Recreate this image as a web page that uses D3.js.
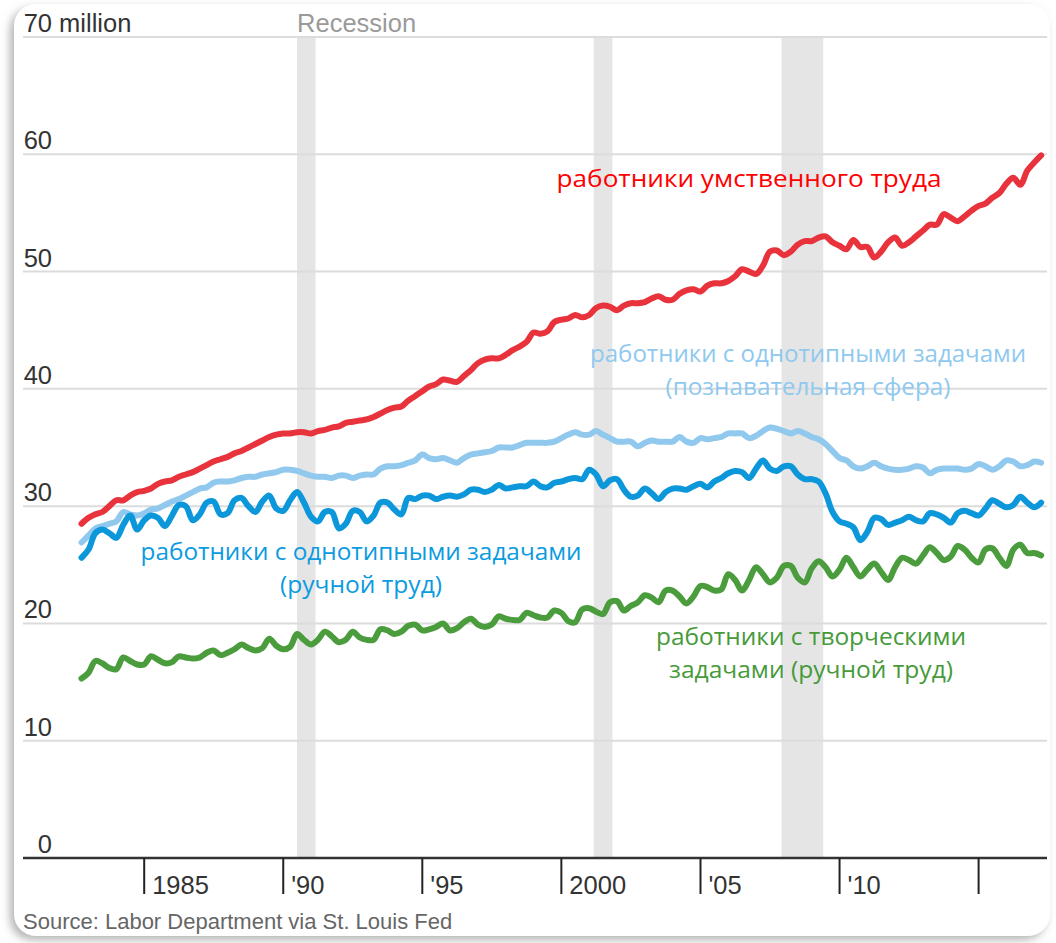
<!DOCTYPE html>
<html>
<head>
<meta charset="utf-8">
<script src="https://cdn.jsdelivr.net/npm/d3@7"></script>
<style>
  html, body { margin: 0; padding: 0; background: #fff; }
  svg { display: block; }
</style>
</head>
<body>
<div id="chart"></div>
<script>
// --- Data (millions of workers, quarterly from Oct 1982) ---
const startQuarter = new Date(1982, 9, 1);

const knowledge = [
  28.5, 29.0, 29.3, 29.5, 30.0, 30.5, 30.5, 30.9, 31.2, 31.3, 31.5, 31.9, 32.1, 32.2, 32.5, 32.7,
  32.9, 33.2, 33.5, 33.8, 34.0, 34.2, 34.5, 34.7, 35.0, 35.3, 35.6, 35.9, 36.1, 36.2, 36.2, 36.3,
  36.3, 36.2, 36.4, 36.5, 36.7, 36.8, 37.1, 37.2, 37.3, 37.4, 37.6, 37.9, 38.2, 38.4, 38.5, 39.0,
  39.4, 39.8, 40.2, 40.4, 40.8, 40.7, 40.6, 41.1, 41.6, 42.2, 42.5, 42.6, 42.6, 42.9, 43.3, 43.6,
  44.0, 44.8, 44.7, 44.9, 45.7, 45.9, 46.0, 46.3, 46.1, 46.3, 46.9, 47.1, 47.0, 46.7, 47.1, 47.3,
  47.3, 47.4, 47.7, 47.9, 47.6, 47.6, 48.1, 48.4, 48.5, 48.3, 48.8, 49.0, 49.0, 49.2, 49.6, 50.2,
  50.0, 49.8, 50.5, 51.7, 51.8, 51.4, 51.7, 52.3, 52.6, 52.6, 52.9, 53.0, 52.5, 52.2, 51.9, 52.7,
  52.1, 52.1, 51.2, 51.7, 52.5, 52.9, 52.2, 52.5, 53.0, 53.5, 54.0, 54.0, 54.9, 54.6, 54.3, 54.7,
  55.2, 55.6, 55.8, 56.3, 56.7, 57.5, 58.0, 57.4, 58.6, 59.3, 59.9
];

const routineCognitive = [
  26.9, 27.5, 28.1, 28.3, 28.5, 28.7, 29.5, 29.3, 29.2, 29.4, 29.7, 29.8, 30.1, 30.4, 30.6, 30.9,
  31.2, 31.5, 31.6, 32.0, 32.1, 32.1, 32.2, 32.4, 32.5, 32.5, 32.7, 32.8, 32.9, 33.1, 33.1, 33.0,
  32.8, 32.6, 32.5, 32.5, 32.4, 32.6, 32.6, 32.4, 32.6, 32.7, 32.7, 33.2, 33.4, 33.4, 33.5, 33.7,
  33.9, 34.4, 34.1, 34.0, 34.1, 33.9, 33.7, 34.1, 34.4, 34.5, 34.6, 34.7, 35.0, 35.0, 35.0, 35.2,
  35.4, 35.4, 35.4, 35.4, 35.5, 35.8, 36.1, 36.3, 36.1, 36.1, 36.4, 36.1, 35.8, 35.5, 35.5, 35.5,
  35.1, 35.4, 35.6, 35.5, 35.5, 35.5, 35.9, 35.5, 35.4, 35.8, 35.7, 35.8, 35.9, 36.2, 36.2, 36.2,
  35.8, 36.0, 36.4, 36.7, 36.6, 36.4, 36.2, 36.4, 36.2, 35.9, 35.7, 35.3, 34.7, 34.1, 33.9, 33.4,
  33.2, 33.4, 33.7, 33.4, 33.2, 33.1, 33.1, 33.2, 33.4, 33.3, 32.8, 33.1, 33.2, 33.2, 33.2, 33.1,
  33.2, 33.6, 33.4, 33.1, 33.4, 33.9, 33.8, 33.4, 33.5, 33.8, 33.7
];

const routineManual = [
  25.6, 26.3, 27.7, 28.0, 27.7, 27.3, 28.4, 29.2, 28.0, 28.8, 29.2, 29.0, 28.3, 29.2, 30.1, 30.0,
  28.8, 29.3, 30.3, 30.4, 29.3, 29.4, 30.5, 30.7, 30.0, 29.5, 30.4, 30.9, 29.8, 29.6, 30.5, 31.2,
  30.3, 29.1, 28.7, 29.5, 29.5, 28.1, 28.5, 29.6, 29.5, 28.7, 29.2, 30.3, 30.3, 29.7, 29.3, 30.7,
  30.6, 30.9, 30.9, 30.6, 30.8, 30.9, 30.8, 31.0, 31.4, 31.4, 31.2, 31.4, 31.8, 31.5, 31.6, 31.7,
  31.7, 32.1, 31.7, 31.6, 32.0, 32.1, 32.3, 32.4, 32.3, 33.1, 32.7, 31.7, 32.2, 32.3, 31.4, 30.8,
  30.9, 31.5, 31.1, 30.6, 31.2, 31.5, 31.5, 31.4, 31.7, 31.9, 31.6, 32.1, 32.4, 32.8, 33.0, 32.9,
  32.4, 33.2, 33.9, 33.2, 33.0, 33.4, 33.4, 32.7, 32.3, 32.3, 32.1, 31.1, 29.5, 28.7, 28.5, 28.2,
  27.1, 27.8, 29.0, 28.9, 28.4, 28.6, 28.8, 29.1, 28.8, 28.7, 29.4, 29.3, 29.0, 28.6, 29.4, 29.6,
  29.4, 29.2, 29.8, 30.5, 30.2, 29.9, 30.1, 30.8, 30.3, 29.9, 30.3
];

const nonRoutineManual = [
  15.3, 15.8, 16.8, 16.6, 16.2, 16.1, 17.1, 16.8, 16.5, 16.5, 17.2, 16.9, 16.6, 16.7, 17.2, 17.1,
  17.0, 17.1, 17.5, 17.7, 17.3, 17.5, 17.8, 18.2, 17.9, 17.7, 17.9, 18.7, 18.1, 17.8, 18.0, 19.1,
  18.6, 18.2, 18.6, 19.3, 18.9, 18.4, 18.6, 19.3, 18.8, 18.6, 18.6, 19.5, 19.4, 19.1, 19.3, 19.8,
  19.9, 19.4, 19.5, 19.7, 20.0, 19.4, 19.6, 20.1, 20.4, 19.9, 19.7, 19.9, 20.6, 20.4, 20.3, 20.3,
  20.9, 20.7, 20.5, 20.5, 21.1, 20.9, 20.2, 20.1, 21.2, 21.3, 21.0, 20.8, 21.8, 21.9, 21.1, 21.5,
  21.8, 22.4, 22.2, 21.8, 22.8, 22.8, 22.3, 21.7, 22.3, 23.2, 23.1, 22.8, 22.9, 24.2, 23.7, 22.8,
  23.7, 24.8, 24.2, 23.5, 23.9, 24.9, 24.9, 23.9, 23.5, 24.7, 25.3, 24.8, 24.0, 24.6, 25.6, 24.8,
  24.0, 24.6, 25.1, 24.4, 23.7, 24.8, 25.6, 25.4, 25.1, 25.8, 26.5, 26.0, 25.4, 25.7, 26.6, 26.3,
  25.6, 25.2, 26.3, 26.4, 25.6, 24.9, 26.3, 26.7, 26.0, 26.0, 25.8
];

const yTicks = [0, 10, 20, 30, 40, 50, 60, 70];
const xTickYears = [1985, 1990, 1995, 2000, 2005, 2010, 2015];
const xTickLabels = ["1985", "'90", "'95", "2000", "'05", "'10", ""];

const recessions = [
  ["1990-07-01", "1991-03-01"],
  ["2001-03-01", "2001-11-01"],
  ["2007-12-01", "2009-06-01"]
];

const series = [
  { name: "routineCognitive", values: routineCognitive, color: "#90c8ee" },
  { name: "nonRoutineManual", values: nonRoutineManual, color: "#4b9c3d" },
  { name: "routineManual", values: routineManual, color: "#0b97d9" },
  { name: "knowledge", values: knowledge, color: "#e8333d" }
];

const labels = [
  { lines: ["работники умственного труда"], x: 749, y: 187, widths: [385], color: "#ff0000" },
  { lines: ["работники с однотипными задачами", "(познавательная сфера)"], x: 808, y: 362, widths: [436, 285], color: "#8fc9ef" },
  { lines: ["работники с однотипными задачами", "(ручной труд)"], x: 361, y: 560, widths: [441, 162], color: "#0b9be0" },
  { lines: ["работники с творческими", "задачами (ручной труд)"], x: 811, y: 645, widths: [310, 284], color: "#469a3a" }
];

// --- Layout ---
const width = 1056, height = 943;
const plotLeft = 23, plotRight = 1047;
const baseFont = "'Liberation Sans', Arial, Helvetica, sans-serif";
const labelFont = "'Open Sans', 'Noto Sans', sans-serif";

const dates = knowledge.map((_, i) => d3.timeMonth.offset(startQuarter, 3 * i));

const x = d3.scaleTime()
    .domain([new Date(1985, 0, 1), new Date(2015, 0, 1)])
    .range([144.2, 978.6]);

const y = d3.scaleLinear()
    .domain([0, 70])
    .range([858, 37]);

const svg = d3.select("#chart")
    .append("svg")
    .attr("width", width)
    .attr("height", height);

// frame with soft shadow
const defs = svg.append("defs");
const shadow = defs.append("filter").attr("id", "shadow")
    .attr("x", "-5%").attr("y", "-5%").attr("width", "110%").attr("height", "110%");
shadow.append("feDropShadow")
    .attr("dx", -4).attr("dy", 4)
    .attr("stdDeviation", 4)
    .attr("flood-color", "#777")
    .attr("flood-opacity", 0.55);

svg.append("rect")
    .attr("x", 14).attr("y", 4)
    .attr("width", 1036).attr("height", 932)
    .attr("rx", 22)
    .attr("fill", "#fff")
    .attr("filter", "url(#shadow)");

// recession bands
svg.append("g")
    .selectAll("rect")
    .data(recessions)
    .join("rect")
    .attr("x", d => x(new Date(d[0])))
    .attr("width", d => x(new Date(d[1])) - x(new Date(d[0])))
    .attr("y", y(70) + 1)
    .attr("height", y(0) - y(70) - 1)
    .attr("fill", "#e5e5e5");

svg.append("text")
    .attr("x", x(new Date(recessions[0][0])))
    .attr("y", 32)
    .attr("font-family", baseFont)
    .attr("font-size", 25.5)
    .attr("fill", "#9a9a9a")
    .text("Recession");

// gridlines
svg.append("g")
    .selectAll("line")
    .data(yTicks.filter(d => d > 0))
    .join("line")
    .attr("x1", plotLeft).attr("x2", plotRight)
    .attr("y1", d => y(d)).attr("y2", d => y(d))
    .attr("stroke", "#dcdcdc")
    .attr("stroke-width", 2);

// y labels
const yLab = svg.append("g")
    .attr("font-family", baseFont)
    .attr("font-size", 25.5)
    .attr("fill", "#333");

yLab.selectAll("text")
    .data(yTicks)
    .join("text")
    .attr("x", 52)
    .attr("y", d => y(d) - 5)
    .attr("text-anchor", "end")
    .text(d => d);

yLab.append("text")
    .attr("x", 52)
    .attr("y", y(70) - 5)
    .text("\u00a0million");

// series lines
const line = d3.line()
    .x((d, i) => x(dates[i]))
    .y(d => y(d))
    .curve(d3.curveCatmullRom.alpha(0.5));

svg.append("g")
    .selectAll("path")
    .data(series)
    .join("path")
    .attr("d", d => line(d.values))
    .attr("fill", "none")
    .attr("stroke", d => d.color)
    .attr("stroke-width", 6)
    .attr("stroke-linejoin", "round")
    .attr("stroke-linecap", "round");

// series labels
labels.forEach(l => {
    l.lines.forEach((t, i) => {
        svg.append("text")
            .attr("x", l.x)
            .attr("y", l.y + i * 33)
            .attr("text-anchor", "middle")
            .attr("font-family", labelFont)
            .attr("font-size", 24.5)
            .attr("fill", l.color)
            .attr("textLength", l.widths[i])
            .attr("lengthAdjust", "spacingAndGlyphs")
            .text(t);
    });
});

// x axis
svg.append("line")
    .attr("x1", plotLeft).attr("x2", plotRight)
    .attr("y1", y(0)).attr("y2", y(0))
    .attr("stroke", "#333")
    .attr("stroke-width", 2.5);

const xAxis = svg.append("g");
xAxis.selectAll("line")
    .data(xTickYears)
    .join("line")
    .attr("x1", d => x(new Date(d, 0, 1)))
    .attr("x2", d => x(new Date(d, 0, 1)))
    .attr("y1", y(0))
    .attr("y2", 894)
    .attr("stroke", "#222")
    .attr("stroke-width", 2);

xAxis.selectAll("text")
    .data(xTickYears)
    .join("text")
    .attr("x", d => x(new Date(d, 0, 1)) + 8)
    .attr("y", 894)
    .attr("font-family", baseFont)
    .attr("font-size", 25.5)
    .attr("fill", "#333")
    .text((d, i) => xTickLabels[i]);

// source
svg.append("text")
    .attr("x", 23)
    .attr("y", 929)
    .attr("font-family", baseFont)
    .attr("font-size", 22)
    .attr("fill", "#666")
    .text("Source: Labor Department via St. Louis Fed");
</script>
</body>
</html>
